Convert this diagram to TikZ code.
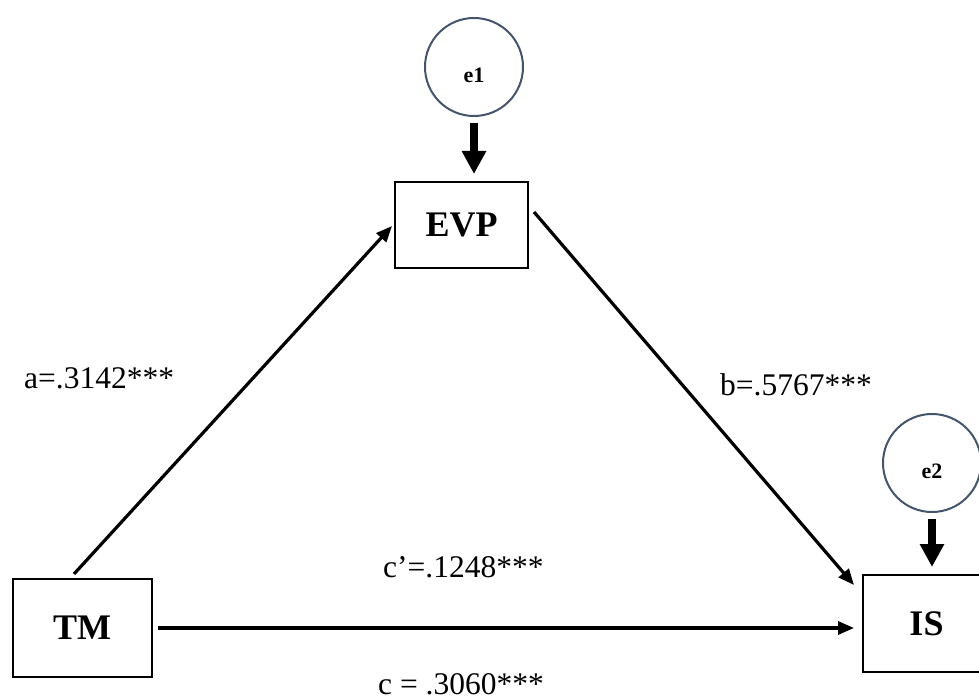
\documentclass[tikz,border=0pt]{standalone}
\usepackage{fontspec}
\setmainfont{Liberation Serif}
\usetikzlibrary{arrows.meta,calc}
\definecolor{ringblue}{HTML}{44546A}
\begin{document}
\begin{tikzpicture}[x=1pt,y=-1pt,
  varbox/.style={draw=black,line width=2pt,rectangle,inner sep=0pt,
    font=\fontsize{36}{40}\selectfont\bfseries},
  errcirc/.style={draw=ringblue,line width=2pt,circle,inner sep=0pt,minimum size=98pt},
  errlabel/.style={font=\fontsize{22}{25}\selectfont\bfseries,yshift=-8pt},
  pathline/.style={line width=3.2pt,-{Triangle[length=16pt,width=13pt]}},
  errarrow/.style={line width=8pt,-{Triangle[length=23pt,width=23pt]}},
  coef/.style={anchor=base west,inner sep=0pt,font=\fontsize{31.5}{36}\selectfont}]
\useasboundingbox (0,0) rectangle (979,700);
\clip (0,0) rectangle (979,700);

% observed variables
\node[varbox,minimum width=133pt,minimum height=86pt] (EVP) at (461.5,225) {EVP};
\node[varbox,minimum width=139pt,minimum height=98pt] (TM) at (82,628) {TM};
\node[varbox,minimum width=127pt,minimum height=97pt] (IS) at (926.5,623.5) {IS};

% error terms
\node[errcirc,label={[errlabel]center:e1}] (e1) at (474,67) {};
\node[errcirc,label={[errlabel]center:e2}] (e2) at (932,463) {};

% error arrows
\draw[errarrow,shorten <=6pt,shorten >=7pt] (e1.south) -- (e1.south |- EVP.north);
\draw[errarrow,shorten <=6pt,shorten >=7pt] (e2.south) -- (e2.south |- IS.north);

% structural paths
\draw[pathline] ($(TM.north)+(-8,-4)$) -- ($(EVP.west)+(-2,1)$);
\draw[pathline] ($(EVP.east)+(5,-13)$) -- ($(IS.north west)+(-8,11)$);
\draw[pathline,shorten <=5pt,shorten >=8pt] (TM.east) -- (TM.east -| IS.west);

% coefficients
\node[coef] (ca) at (24,388) {a=.3142***};
\node[coef] (cb) at (720,395) {b=.5767***};
\node[coef] (ccp) at (383,577) {c’=.1248***};
\node[coef] (cc) at (378,694) {c = .3060***};
\end{tikzpicture}
\end{document}
